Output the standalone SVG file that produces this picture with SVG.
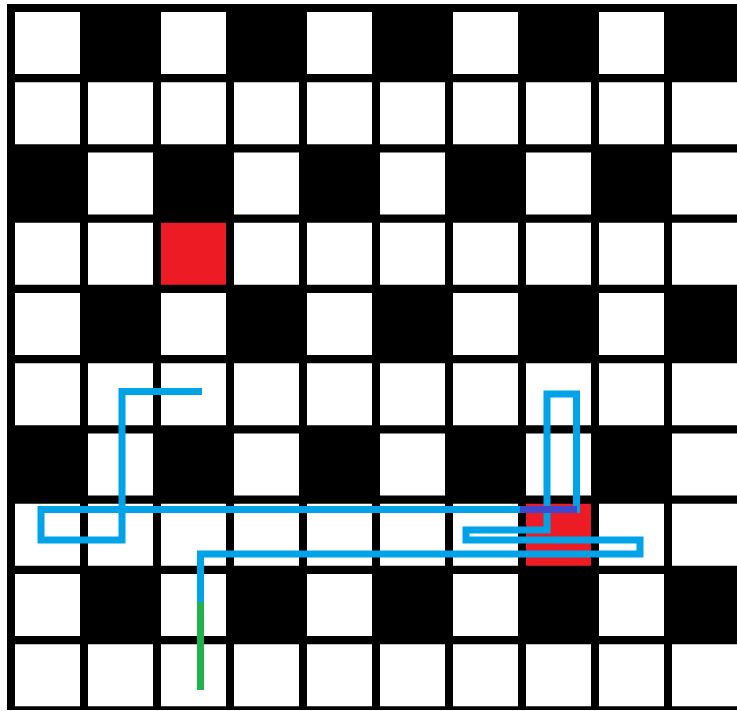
<svg xmlns="http://www.w3.org/2000/svg" xmlns:xlink="http://www.w3.org/1999/xlink" width="737" height="711" viewBox="0 0 737 711">
<style>
.c{fill:#ffffff}
.r{fill:#ED1C24}
.p{fill:none;stroke-width:7;stroke-linejoin:miter;stroke-linecap:butt}
</style>
<defs>
<rect id="w" class="c" width="65" height="62"/>
<rect id="rd" class="r" width="65" height="62"/>
</defs>
<rect x="0" y="0" width="737" height="711" fill="#ffffff"/>
<rect x="7" y="4" width="730" height="706" fill="#000000"/>
<g id="grid">
<!-- row 0 -->
<use xlink:href="#w" x="15" y="12"/><use xlink:href="#w" x="161" y="12"/><use xlink:href="#w" x="307" y="12"/><use xlink:href="#w" x="453" y="12"/><use xlink:href="#w" x="599" y="12"/>
<!-- row 1 -->
<use xlink:href="#w" x="15" y="82.25"/><use xlink:href="#w" x="88" y="82.25"/><use xlink:href="#w" x="161" y="82.25"/><use xlink:href="#w" x="234" y="82.25"/><use xlink:href="#w" x="307" y="82.25"/><use xlink:href="#w" x="380" y="82.25"/><use xlink:href="#w" x="453" y="82.25"/><use xlink:href="#w" x="526" y="82.25"/><use xlink:href="#w" x="599" y="82.25"/><use xlink:href="#w" x="672" y="82.25"/>
<!-- row 2 -->
<use xlink:href="#w" x="88" y="152.5"/><use xlink:href="#w" x="234" y="152.5"/><use xlink:href="#w" x="380" y="152.5"/><use xlink:href="#w" x="526" y="152.5"/><use xlink:href="#w" x="672" y="152.5"/>
<!-- row 3 -->
<use xlink:href="#w" x="15" y="222.75"/><use xlink:href="#w" x="88" y="222.75"/><use xlink:href="#w" x="234" y="222.75"/><use xlink:href="#w" x="307" y="222.75"/><use xlink:href="#w" x="380" y="222.75"/><use xlink:href="#w" x="453" y="222.75"/><use xlink:href="#w" x="526" y="222.75"/><use xlink:href="#w" x="599" y="222.75"/><use xlink:href="#w" x="672" y="222.75"/>
<!-- row 4 -->
<use xlink:href="#w" x="15" y="293"/><use xlink:href="#w" x="161" y="293"/><use xlink:href="#w" x="307" y="293"/><use xlink:href="#w" x="453" y="293"/><use xlink:href="#w" x="599" y="293"/>
<!-- row 5 -->
<use xlink:href="#w" x="15" y="363.25"/><use xlink:href="#w" x="88" y="363.25"/><use xlink:href="#w" x="161" y="363.25"/><use xlink:href="#w" x="234" y="363.25"/><use xlink:href="#w" x="307" y="363.25"/><use xlink:href="#w" x="380" y="363.25"/><use xlink:href="#w" x="453" y="363.25"/><use xlink:href="#w" x="526" y="363.25"/><use xlink:href="#w" x="599" y="363.25"/><use xlink:href="#w" x="672" y="363.25"/>
<!-- row 6 -->
<use xlink:href="#w" x="88" y="433.5"/><use xlink:href="#w" x="234" y="433.5"/><use xlink:href="#w" x="380" y="433.5"/><use xlink:href="#w" x="526" y="433.5"/><use xlink:href="#w" x="672" y="433.5"/>
<!-- row 7 -->
<use xlink:href="#w" x="15" y="503.75"/><use xlink:href="#w" x="88" y="503.75"/><use xlink:href="#w" x="161" y="503.75"/><use xlink:href="#w" x="234" y="503.75"/><use xlink:href="#w" x="307" y="503.75"/><use xlink:href="#w" x="380" y="503.75"/><use xlink:href="#w" x="453" y="503.75"/><use xlink:href="#w" x="599" y="503.75"/><use xlink:href="#w" x="672" y="503.75"/>
<!-- row 8 -->
<use xlink:href="#w" x="15" y="574"/><use xlink:href="#w" x="161" y="574"/><use xlink:href="#w" x="307" y="574"/><use xlink:href="#w" x="453" y="574"/><use xlink:href="#w" x="599" y="574"/>
<!-- row 9 -->
<use xlink:href="#w" x="15" y="644.25"/><use xlink:href="#w" x="88" y="644.25"/><use xlink:href="#w" x="161" y="644.25"/><use xlink:href="#w" x="234" y="644.25"/><use xlink:href="#w" x="307" y="644.25"/><use xlink:href="#w" x="380" y="644.25"/><use xlink:href="#w" x="453" y="644.25"/><use xlink:href="#w" x="526" y="644.25"/><use xlink:href="#w" x="599" y="644.25"/><use xlink:href="#w" x="672" y="644.25"/>
</g>
<g id="red-cells">
<use xlink:href="#rd" x="161" y="222.75"/>
<use xlink:href="#rd" x="526" y="503.75"/>
</g>
<g id="path">
<polyline class="p" stroke="#00A2E8" points="200.5,602 200.5,554 640,554 640,540 466,540 466,530 547,530 547,394 576.5,394 576.5,513"/>
<polyline class="p" stroke="#00A2E8" points="520,509.5 41,509.5 41,540 122,540 122,391.5 202,391.5"/>
<line class="p" stroke="#3F48CC" x1="520" y1="509.5" x2="577" y2="509.5"/>
<line class="p" stroke="#22B14C" x1="200.5" y1="602" x2="200.5" y2="690"/>
</g>
</svg>
